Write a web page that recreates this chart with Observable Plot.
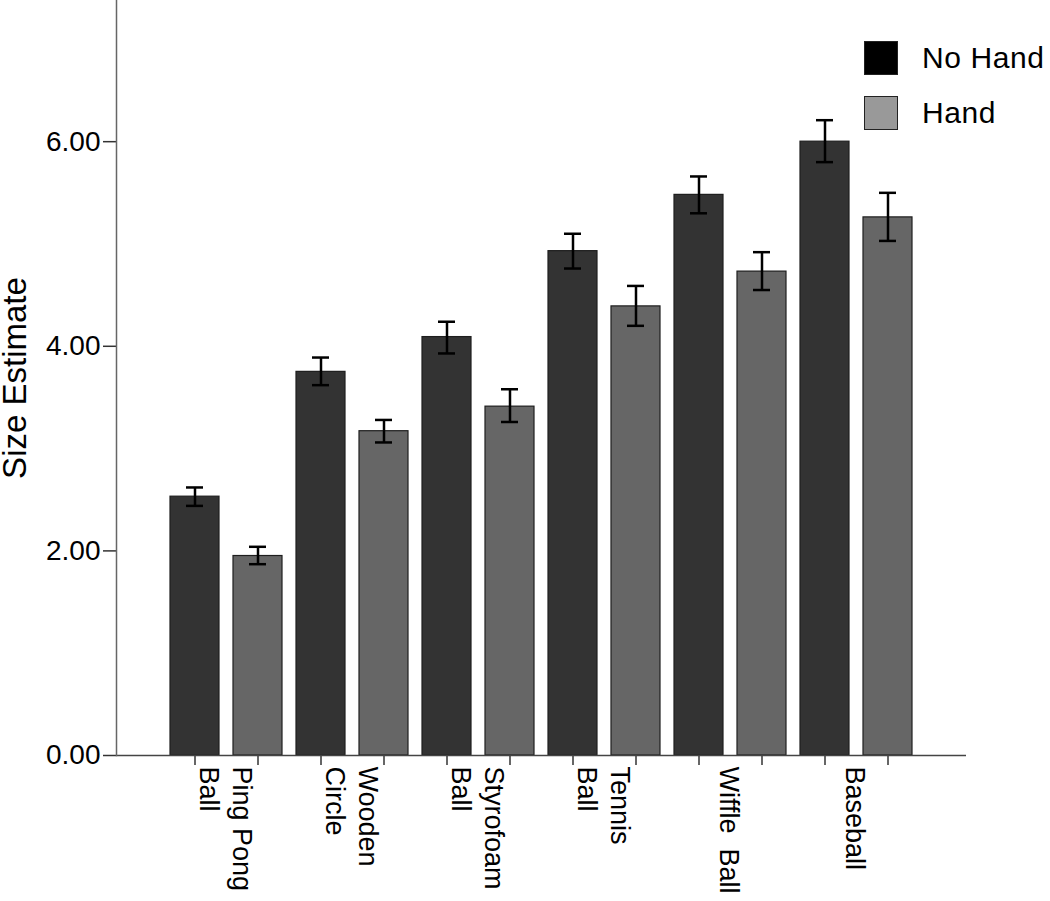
<!DOCTYPE html>
<html><head><meta charset="utf-8">
<script src="https://cdn.jsdelivr.net/npm/d3@7"></script>
<script src="https://cdn.jsdelivr.net/npm/@observablehq/plot@0.6"></script>
<style>
body{margin:0;background:#fff;}
#wrap{position:relative;width:1050px;height:901px;font-family:"Liberation Sans",Arial,sans-serif;}
#legend{position:absolute;left:864px;top:41px;}
.row{display:flex;align-items:center;height:34px;margin-bottom:21px;}
.sw{width:32px;height:32px;border:1px solid #222;}
.lab{margin-left:24px;font-size:30px;letter-spacing:0.6px;color:#000;line-height:34px;}
g[aria-label="y-axis label"]{font-size:33px;}
</style></head><body><div id="wrap"><div id="legend"></div></div>
<script>
const groups = ["Ping Pong Ball", "Wooden Circle", "Styrofoam Ball", "Tennis Ball", "Wiffle Ball", "Baseball"];
const groupLabels = ["Ping Pong\nBall", "Wooden\nCircle", "Styrofoam\nBall", "Tennis\nBall", "Wiffle\u00a0\u00a0Ball", "Baseball"];
const conditions = ["No Hand", "Hand"];
const noHandMean = [2.53, 3.75, 4.09, 4.93, 5.48, 6.00];
const noHandLow  = [2.44, 3.62, 3.93, 4.76, 5.30, 5.80];
const noHandHigh = [2.62, 3.89, 4.24, 5.10, 5.66, 6.21];
const handMean = [1.95, 3.17, 3.41, 4.39, 4.73, 5.26];
const handLow  = [1.87, 3.06, 3.26, 4.20, 4.55, 5.03];
const handHigh = [2.04, 3.28, 3.58, 4.59, 4.92, 5.50];
const yTicks = [0, 2, 4, 6];
const barColors = ["#333333", "#666666"];
const legendColors = ["#000000", "#999999"];

const keyOf = (g, c) => g + "|" + c;
const data = [];
groups.forEach((g, i) => {
  data.push({key: keyOf(g, conditions[0]), group: g, condition: conditions[0], mean: noHandMean[i], low: noHandLow[i], high: noHandHigh[i]});
  data.push({key: keyOf(g, conditions[1]), group: g, condition: conditions[1], mean: handMean[i], low: handLow[i], high: handHigh[i]});
});
const keys = data.map(d => d.key);

const W = 1050, H = 901, mL = 116, mR = 84;
const padInner = 0.23, padOuter = 0.787;
// half a band step: moves a group label from its first bar to the middle of the pair
const halfStep = (W - mL - mR) / (keys.length - padInner + 2 * padOuter) / 2;

const chart = Plot.plot({
  width: W, height: H,
  marginLeft: mL, marginRight: mR, marginTop: 0, marginBottom: 146,
  style: {fontFamily: "'Liberation Sans', Arial, sans-serif", background: "white", color: "black", overflow: "visible"},
  x: {domain: keys, paddingInner: padInner, paddingOuter: padOuter, axis: null},
  y: {domain: [0, 7.38], axis: null},
  color: {domain: conditions, range: barColors},
  marks: [
    Plot.barY(data, {x: "key", y: "mean", fill: "condition", stroke: "#1e1e1e", strokeWidth: 1.2}),
    Plot.ruleX(data, {x: "key", y1: "low", y2: "high", stroke: "#000", strokeWidth: 2.5}),
    Plot.tickY(data, {x: "key", y: "high", insetLeft: 16, insetRight: 16, stroke: "#000", strokeWidth: 2.5}),
    Plot.tickY(data, {x: "key", y: "low", insetLeft: 16, insetRight: 16, stroke: "#000", strokeWidth: 2.5}),
    Plot.axisX({tickSize: 10, tickFormat: () => "", stroke: "#333", strokeWidth: 1.5, label: null}),
    Plot.text(groups, {
      x: g => keyOf(g, conditions[0]),
      text: (g, i) => groupLabels[i],
      frameAnchor: "bottom", dy: 11, dx: halfStep,
      rotate: 90, textAnchor: "start", lineAnchor: "middle", lineHeight: 1.2,
      fontSize: 27, fill: "#000"
    }),
    Plot.axisY({ticks: yTicks, tickFormat: d => d.toFixed(2), tickSize: 13, tickPadding: 3, fontSize: 28, stroke: "#333", strokeWidth: 1.5, label: "Size Estimate", labelAnchor: "center", labelArrow: "none", labelOffset: mL - 2}),
    Plot.ruleY([0], {stroke: "#444", strokeWidth: 1.5}),
    Plot.frame({anchor: "left", stroke: "#666", strokeWidth: 1.5})
  ]
});
const wrap = document.getElementById("wrap");
wrap.insertBefore(chart, wrap.firstChild);

const legend = document.getElementById("legend");
conditions.forEach((c, i) => {
  const row = document.createElement("div");
  row.className = "row";
  const sw = document.createElement("div");
  sw.className = "sw";
  sw.style.background = legendColors[i];
  const lab = document.createElement("div");
  lab.className = "lab";
  lab.textContent = c;
  row.appendChild(sw); row.appendChild(lab);
  legend.appendChild(row);
});
</script></body></html>
